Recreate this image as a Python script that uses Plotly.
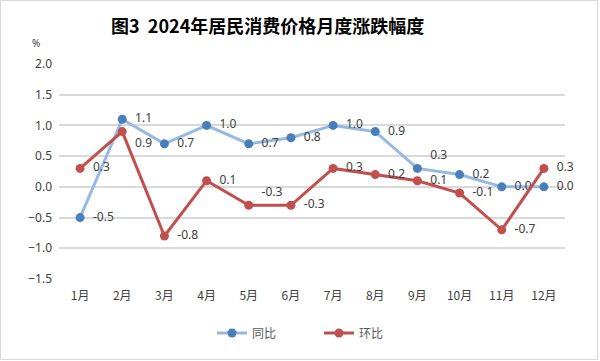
import plotly.graph_objects as go

months = ["1月", "2月", "3月", "4月", "5月", "6月", "7月", "8月", "9月", "10月", "11月", "12月"]
tongbi = [-0.5, 1.1, 0.7, 1.0, 0.7, 0.8, 1.0, 0.9, 0.3, 0.2, 0.0, 0.0]
huanbi = [0.3, 0.9, -0.8, 0.1, -0.3, -0.3, 0.3, 0.2, 0.1, -0.1, -0.7, 0.3]
yticks = [-1.5, -1.0, -0.5, 0.0, 0.5, 1.0, 1.5, 2.0]

# label placement (style only)
tb_pos = ["middle right"] * 12
tb_pos[8] = "top right"
hb_pos = ["middle right"] * 12
hb_pos[1] = "bottom right"
hb_pos[4] = "top right"

W, H = 600, 361
L, R, T, B = 59, 35, 64, 82
pw, ph = W - L - R, H - T - B

label_font = dict(family="Noto Sans, DejaVu Sans", size=12, color="#404040")
pad = "\u00a0\u00a0"

fig = go.Figure()
fig.add_trace(go.Scatter(
    x=months, y=tongbi, name="同比", mode="lines+markers+text",
    line=dict(color="#95B9E3", width=3),
    marker=dict(color="#4A7EBB", size=9),
    text=[pad + f"{v:.1f}" for v in tongbi], textposition=tb_pos,
    textfont=label_font, cliponaxis=False,
))
fig.add_trace(go.Scatter(
    x=months, y=huanbi, name="环比", mode="lines+markers+text",
    line=dict(color="#C0504D", width=3),
    marker=dict(color="#C0504D", size=9),
    text=[pad + f"{v:.1f}" for v in huanbi], textposition=hb_pos,
    textfont=label_font, cliponaxis=False,
))

fig.update_layout(
    width=W, height=H,
    margin=dict(l=L, r=R, t=T, b=B),
    paper_bgcolor="white", plot_bgcolor="white",
    showlegend=True,
    legend=dict(orientation="h", x=(212 - L) / pw, xanchor="left",
                y=-(333 - T - ph) / ph, yanchor="middle",
                font=dict(family="Noto Sans CJK SC", size=12, color="#595959"),
                itemwidth=30, entrywidth=62),
    xaxis=dict(type="category", range=[-0.5, 11.5], showgrid=False,
               showline=False, ticks="", ticklabelstandoff=8,
               tickfont=dict(family="Noto Sans CJK SC", size=12, color="#404040")),
    yaxis=dict(range=[-1.5, 2.0], tickvals=yticks, tickformat=".1f",
               showgrid=True, gridcolor="#D9D9D9", gridwidth=1.5,
               zeroline=True, zerolinecolor="#D9D9D9", zerolinewidth=1.5,
               showline=False, ticks="", ticklabelstandoff=6,
               tickfont=dict(family="Noto Sans, DejaVu Sans", size=12, color="#404040")),
    annotations=[
        dict(text="<b>图3  2024年居民消费价格月度涨跌幅度</b>", xref="paper", yref="paper",
             x=(267 - L) / pw, y=(H - 25 - B) / ph, xanchor="center", yanchor="middle",
             showarrow=False, font=dict(family="Noto Sans CJK SC", size=18, color="#000000")),
        dict(text="%", xref="paper", yref="paper",
             x=(36 - L) / pw, y=(H - 43 - B) / ph, xanchor="center", yanchor="middle",
             showarrow=False, font=dict(family="Noto Sans, DejaVu Sans", size=10, color="#404040")),
    ],
    shapes=[dict(type="rect", xref="paper", yref="paper",
                 x0=(0.5 - L) / pw, x1=(597.5 - L) / pw,
                 y0=(H - 359.5 - B) / ph, y1=(H - 0.5 - B) / ph,
                 line=dict(color="#D9D9D9", width=1), layer="below")],
)

fig.write_html("out.html", config={"displayModeBar": False},
               post_script="document.body.style.margin='0px';")
